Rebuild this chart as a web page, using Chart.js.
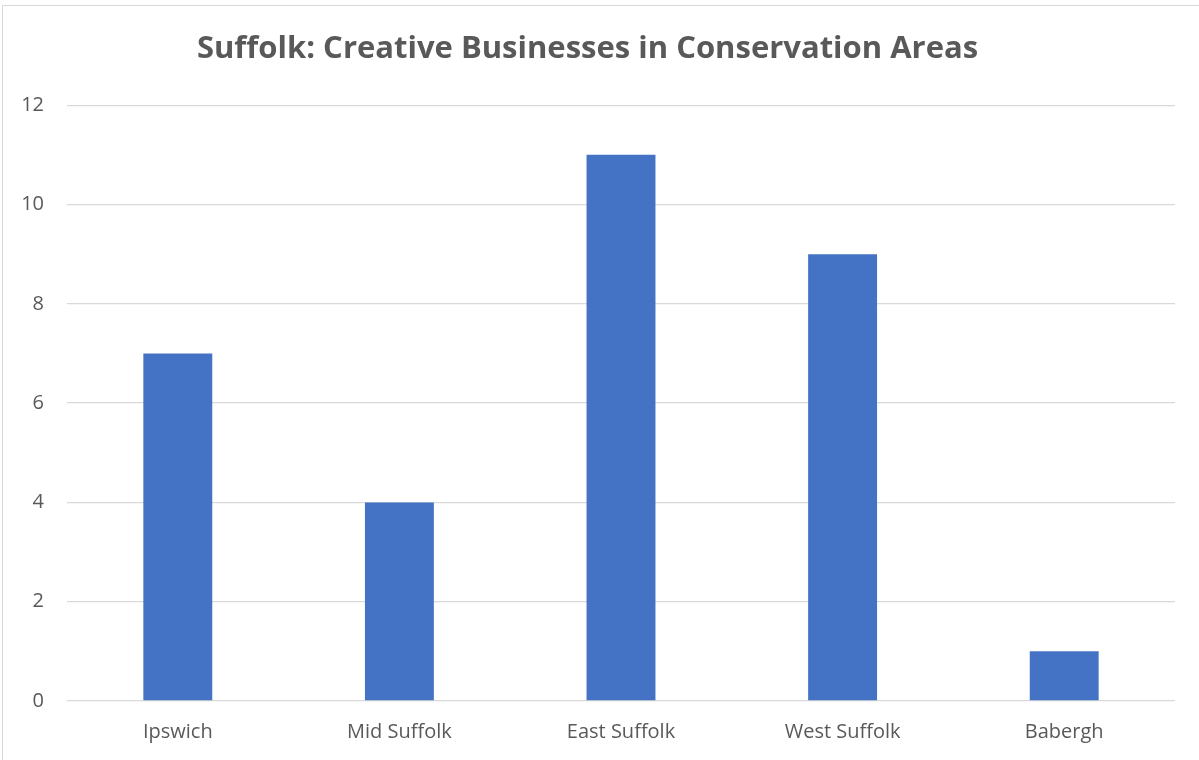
<!DOCTYPE html>
<html>
<head>
<meta charset="utf-8">
<script src="https://cdn.jsdelivr.net/npm/chart.js@4"></script>
<style>
  body { margin: 0; background: #fff; }
  #wrap { position: relative; width: 1199px; height: 760px; }
  #frame { position: absolute; left: 2px; top: 5px; width: 1300px; height: 900px; border: 1.5px solid #d9d9d9; pointer-events: none; }
</style>
</head>
<body>
<div id="wrap">
  <div id="frame"></div>
  <canvas id="grafico" width="1199" height="760"></canvas>
</div>
<script>
// dados do grafico
var categorias = ['Ipswich', 'Mid Suffolk', 'East Suffolk', 'West Suffolk', 'Babergh'];
var valores = [7, 4, 11, 9, 1];
var tituloGrafico = 'Suffolk: Creative Businesses in Conservation Areas';
var eixoY = { min: 0, max: 12, passo: 2 };

var corTexto = '#595959';
var corGrade = '#d9d9d9';

const ctx = document.getElementById('grafico');

new Chart(ctx, {
    type: 'bar',
    data: {
        labels: categorias,
        datasets: [{
            label: 'Businesses',
            data: valores,
            backgroundColor: '#4472c4',
            borderWidth: 0,
            categoryPercentage: 1,
            barPercentage: 0.311
        }]
    },
    options: {
        responsive: false,
        animation: false,
        layout: { padding: { left: 0, right: 24, top: 0, bottom: 0 } },
        plugins: {
            legend: { display: false },
            tooltip: { enabled: false },
            title: {
                display: true,
                text: tituloGrafico,
                color: corTexto,
                font: { family: 'Open Sans', size: 31, weight: 'bold' },
                padding: { top: 31, bottom: 37 }
            }
        },
        scales: {
            x: {
                grid: { display: false, drawTicks: false },
                border: { display: false },
                ticks: {
                    color: corTexto,
                    padding: 19,
                    font: { family: 'Open Sans', size: 20 }
                },
                afterFit: function (escala) { escala.height = 59; }
            },
            y: {
                min: eixoY.min,
                max: eixoY.max,
                grid: { color: corGrade, lineWidth: 1.3, drawTicks: false },
                border: { display: false },
                ticks: {
                    stepSize: eixoY.passo,
                    color: corTexto,
                    padding: 23,
                    font: { family: 'Open Sans', size: 20 }
                },
                afterFit: function (escala) { escala.width = 67; }
            }
        }
    }
});
</script>
</body>
</html>
